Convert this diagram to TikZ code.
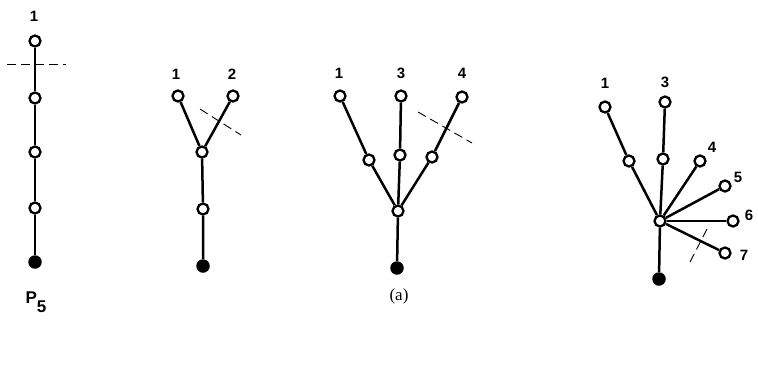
\documentclass[tikz,border=0pt]{standalone}
\usepackage{fontspec}
\setmainfont{Liberation Serif}
\setsansfont{Liberation Sans}
\begin{document}
\begin{tikzpicture}[x=1pt,y=-1pt,
  v/.style={circle,draw,line width=2.3pt,fill=white,minimum size=11pt,inner sep=0pt},
  root/.style={circle,fill=black,minimum size=13.5pt,inner sep=0pt},
  edge/.style={line width=2.5pt},
  cut/.style={line width=0.9pt,dash pattern=on 9pt off 5pt},
  lab/.style={font=\sffamily\bfseries\fontsize{15}{15}\selectfont,inner sep=0pt}]
\useasboundingbox (0,0) rectangle (758,373);
% Graph 1 (P5)
\node[root] (a0) at (35,262) {};
\node[v] (a1) at (35,208) {};
\node[v] (a2) at (35,152) {};
\node[v] (a3) at (35,98) {};
\node[v] (a4) at (35,41) {};
\draw[edge] (a0) -- (a1) -- (a2) -- (a3) -- (a4);
\node[lab] (la1) at (34,16) {1};
\coordinate (ca1) at (7,64); \coordinate (ca2) at (66,64);
\draw[cut] (ca1) -- (ca2);
\node[lab,font=\sffamily\bfseries\fontsize{17}{17}\selectfont] (p5) at (36,302) {P\raisebox{-0.5em}{5}};
% Graph 2
\node[root] (b0) at (203,266) {};
\node[v] (b1) at (203,209) {};
\node[v] (b2) at (202,152) {};
\node[v] (b3) at (178,96) {};
\node[v] (b4) at (233,96) {};
\draw[edge] (b0) -- (b1) -- (b2) -- (b3);
\draw[edge] (b2) -- (b4);
\node[lab] (lb1) at (176,74) {1};
\node[lab] (lb2) at (232,74) {2};
\coordinate (cb1) at (200,109); \coordinate (cb2) at (241,135);
\draw[cut] (cb1) -- (cb2);
% Graph 3
\node[root] (c0) at (397,268) {};
\node[v] (c1) at (398,211) {};
\node[v] (c2) at (369,160) {};
\node[v] (c3) at (400,155) {};
\node[v] (c4) at (432,157) {};
\node[v] (c5) at (340,96) {};
\node[v] (c6) at (401,96) {};
\node[v] (c7) at (462,97) {};
\draw[edge] (c0) -- (c1) -- (c2) -- (c5);
\draw[edge] (c1) -- (c3) -- (c6);
\draw[edge] (c1) -- (c4) -- (c7);
\node[lab] (lc1) at (339,73) {1};
\node[lab] (lc3) at (401,73) {3};
\node[lab] (lc4) at (462,73) {4};
\coordinate (cc1) at (418,112); \coordinate (cc2) at (472,143);
\draw[cut] (cc1) -- (cc2);
% Graph 4
\node[root] (d0) at (659,279) {};
\node[v] (d1) at (660,221) {};
\node[v] (d2) at (629,161) {};
\node[v] (d3) at (663,159) {};
\node[v] (d4) at (605,107) {};
\node[v] (d5) at (665,102) {};
\node[v] (d6) at (700,161) {};
\node[v] (d7) at (725,186) {};
\node[v] (d8) at (733,221) {};
\node[v] (d9) at (725,253) {};
\draw[edge] (d0) -- (d1) -- (d2) -- (d4);
\draw[edge] (d1) -- (d3) -- (d5);
\draw[edge] (d1) -- (d6);
\draw[edge] (d1) -- (d7);
\draw[edge] (d1) -- (d8);
\draw[edge] (d1) -- (d9);
\node[lab] (ld1) at (605,83) {1};
\node[lab] (ld3) at (665,82) {3};
\node[lab] (ld4) at (712,147) {4};
\node[lab] (ld5) at (738,177) {5};
\node[lab] (ld6) at (749,215) {6};
\node[lab] (ld7) at (744,255) {7};
\coordinate (cd1) at (707,229); \coordinate (cd2) at (689,264);
\draw[cut] (cd1) -- (cd2);
% caption
\node[font=\fontsize{17}{17}\selectfont,inner sep=0pt] (cap) at (399,296) {(a)};
\end{tikzpicture}
\end{document}
